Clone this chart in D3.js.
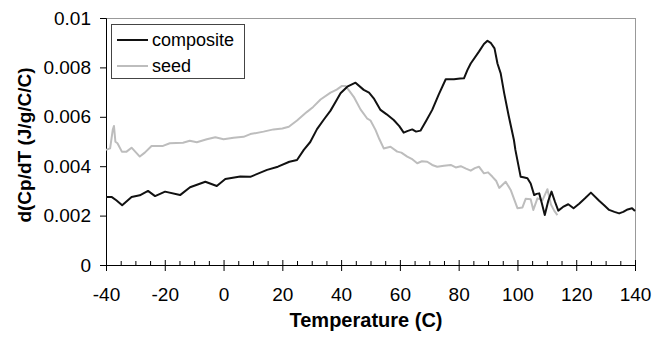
<!DOCTYPE html>
<html><head><meta charset="utf-8">
<script src="https://cdn.jsdelivr.net/npm/d3@7"></script>
<style>body{margin:0;background:#fff}svg{display:block}text{font-family:"Liberation Sans",Arial,sans-serif}</style>
</head><body><svg id="c" width="652" height="337"></svg>
<script>
const seriesNames = ["composite", "seed"];
const xTicks = [-40,-20,0,20,40,60,80,100,120,140];
const xTickLabels = ["-40","-20","0","20","40","60","80","100","120","140"];
const yTicks = [0,0.002,0.004,0.006,0.008,0.01];
const yTickLabels = ["0","0.002","0.004","0.006","0.008","0.01"];
// temperature (C), d(Cp/dT) in units of 0.001
const compositeT = [-40,-38,-36.5,-34.5,-31.3,-28.5,-25.7,-23.3,-19.9,-14.8,-11.4,-6.2,-2.3,0.6,5.7,9.1,14.8,18.5,22.4,25,27.3,29.5,31.8,34.2,36.4,38.2,39.8,42.1,44.9,47.7,49.5,51.1,53.4,55.5,57.9,59.8,61.3,62.5,64.2,65.5,67,69,71,73.2,75.6,78.4,80.5,81.8,83,84.1,86.9,88.6,89.8,91,92.2,93.2,94.3,95.5,97,98.8,99.3,101.1,102,103.4,104.5,105.7,106.5,107.4,108.3,109.3,110.5,111.6,112.8,113.9,115.5,117.3,119.1,121,123,125,127.8,129.5,131.2,133,134.6,136,137.5,139,140];
const compositeV = [2.75,2.75,2.62,2.42,2.75,2.82,3.0,2.79,2.97,2.83,3.15,3.37,3.2,3.48,3.58,3.57,3.85,3.98,4.18,4.25,4.66,4.98,5.5,5.9,6.25,6.62,6.95,7.22,7.38,7.09,6.98,6.75,6.28,6.1,5.87,5.62,5.36,5.42,5.49,5.4,5.44,5.85,6.28,6.9,7.52,7.52,7.55,7.56,7.9,8.16,8.64,8.95,9.08,8.98,8.77,8.16,7.76,6.95,6.05,5.06,4.66,3.57,3.55,3.51,3.3,2.83,2.88,2.9,2.5,2.02,2.6,2.97,2.55,2.2,2.35,2.46,2.3,2.48,2.7,2.93,2.6,2.42,2.23,2.15,2.09,2.15,2.25,2.3,2.19];
const seedT = [-40,-38.6,-37.7,-37.3,-36.8,-36.1,-34.6,-33,-31.3,-28.5,-26.8,-24.5,-20.6,-18.3,-13.8,-11.5,-9.1,-5.7,-2.8,0,3.4,6.8,9.1,13.6,17,20,22.2,25,28.4,30.5,33,36.4,38.5,40.3,41.5,42.8,44.3,46.6,48.8,50,51.7,53,54.5,56.8,59.1,60.5,62.5,64,65.9,67.5,69.3,71,72.7,75,77.3,79,80.7,82.5,84.1,85.5,86.9,88.6,90,91.5,92.8,93.8,96,97.7,100,101.7,102.8,104.5,105.4,106.8,108.5,110.2,111.4,112.5,113.6];
const seedV = [4.66,4.72,5.47,5.63,4.99,4.93,4.59,4.59,4.75,4.39,4.55,4.82,4.82,4.93,4.95,5.03,4.97,5.09,5.17,5.09,5.15,5.19,5.3,5.4,5.49,5.53,5.6,5.85,6.2,6.4,6.7,6.98,7.1,7.25,7.25,7.05,6.81,6.3,5.94,5.85,5.47,5.1,4.72,4.79,4.59,4.55,4.39,4.3,4.12,4.2,4.18,4.05,3.98,4.02,4.05,3.95,4.0,3.9,3.82,3.92,3.98,3.71,3.75,3.57,3.4,3.12,3.37,3.04,2.3,2.33,2.68,2.66,2.23,2.7,2.62,3.07,2.45,2.2,2.02];

const svg = d3.select("#c");
const L = 106, R = 635, T = 18, B = 265;
const x = d3.scaleLinear().domain([-40,140]).range([L,R]);
const y = d3.scaleLinear().domain([0,0.01]).range([B,T]);

// plot frame (gray top/right)
svg.append("line").attr("x1",L).attr("x2",R).attr("y1",T+0.5).attr("y2",T+0.5).attr("stroke","#999").attr("stroke-width",1);
svg.append("line").attr("x1",R+0.5).attr("x2",R+0.5).attr("y1",T).attr("y2",B).attr("stroke","#999").attr("stroke-width",1);

// y axis
const ya = svg.append("g").attr("transform",`translate(${L},0)`)
  .call(d3.axisLeft(y).tickValues(yTicks).tickFormat((d,i)=>yTickLabels[i]).tickSize(6).tickPadding(9));
ya.select(".domain").attr("stroke","#000");
ya.selectAll("text").attr("font-size",19).attr("fill","#000").attr("font-family","Liberation Sans, Arial, sans-serif");

// x axis
const minor = d3.range(-40,141,5).filter(v=>v%20!==0);
svg.append("g").selectAll("line").data(minor).join("line")
  .attr("x1",d=>x(d)+0.5).attr("x2",d=>x(d)+0.5).attr("y1",B).attr("y2",B-4).attr("stroke","#000");
const xa = svg.append("g").attr("transform",`translate(0,${B})`)
  .call(d3.axisBottom(x).tickValues(xTicks).tickFormat((d,i)=>xTickLabels[i]).tickSize(6).tickPadding(17));
xa.select(".domain").attr("stroke","#000");
xa.selectAll(".tick line").attr("y1",-5).attr("stroke","#000");
xa.selectAll("text").attr("font-size",19).attr("fill","#000").attr("font-family","Liberation Sans, Arial, sans-serif");

// axis titles
svg.append("text").attr("x",366).attr("y",327).attr("text-anchor","middle")
  .attr("font-size",20).attr("font-weight","bold").text("Temperature (C)");
svg.append("text").attr("transform","translate(31,145) rotate(-90)").attr("text-anchor","middle")
  .attr("font-size",19).attr("font-weight","bold").text("d(Cp/dT (J/g/C/C)");

// lines
const line = d3.line().x(d=>x(d[0])).y(d=>y(d[1]/1000));
const seedData = seedT.map((t,i)=>[t,seedV[i]]);
const compData = compositeT.map((t,i)=>[t,compositeV[i]]);
svg.append("path").datum(seedData).attr("d",line).attr("fill","none").attr("stroke","#bdbdbd").attr("stroke-width",2).attr("stroke-linejoin","round");
svg.append("path").datum(compData).attr("d",line).attr("fill","none").attr("stroke","#111").attr("stroke-width",2).attr("stroke-linejoin","round");

// legend
const lg = svg.append("g");
lg.append("rect").attr("x",111.5).attr("y",24.5).attr("width",133).attr("height",54).attr("fill","#fff").attr("stroke","#444").attr("stroke-width",1);
const colors = ["#111","#bdbdbd"];
seriesNames.forEach((n,i)=>{
  const yy = 40 + i*26;
  lg.append("line").attr("x1",117).attr("x2",148).attr("y1",yy).attr("y2",yy).attr("stroke",colors[i]).attr("stroke-width",2);
  lg.append("text").attr("x",152).attr("y",yy+6).attr("font-size",18).text(n);
});
</script></body></html>
